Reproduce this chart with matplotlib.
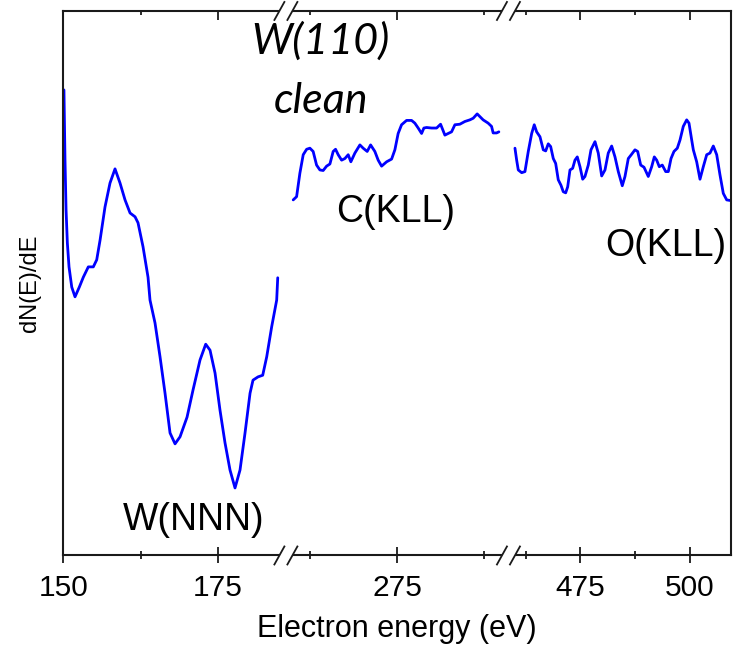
import matplotlib.pyplot as plt
from matplotlib.lines import Line2D
from matplotlib.patches import Polygon

plt.rcParams['font.family'] = ['Liberation Sans', 'DejaVu Sans']

# W(NNN) region, 150-186 eV
w_energy = [150.1, 150.27, 150.44, 150.65, 150.92, 151.36, 151.89, 152.59, 153.23, 154.04,
            154.85, 155.40, 155.94, 156.74, 157.55, 158.36, 159.17, 159.98, 160.79, 161.60,
            162.08, 162.89, 163.70, 164.02, 164.83, 165.64, 166.45, 167.26, 168.07, 168.88,
            170.01, 170.98, 172.11, 173.03, 173.73, 174.54, 175.34, 176.15, 176.96, 177.77,
            178.58, 179.39, 180.20, 180.68, 181.49, 182.25, 182.90, 183.70, 184.51, 184.68]
w_signal = [85.5, 72.6, 63.5, 57.4, 53.0, 49.3, 47.5, 49.3, 51.1, 53.0,
            53.0, 54.3, 57.9, 64.0, 68.4, 71.0, 68.4, 65.3, 62.9, 62.2,
            61.1, 56.7, 51.1, 46.9, 42.7, 36.5, 29.8, 22.5, 20.5, 21.8,
            25.4, 30.4, 35.9, 38.8, 37.7, 33.5, 26.7, 20.7, 15.7, 12.4,
            15.7, 22.5, 29.8, 32.2, 32.8, 33.1, 36.5, 42.0, 46.9, 51.0]

# C(KLL) region, 259-291 eV
c_energy = [260.05, 260.54, 261.01, 261.49, 261.98, 262.45, 262.92, 263.41, 263.89, 264.36,
            264.85, 265.33, 265.80, 266.14, 266.52, 267.01, 267.48, 267.96, 268.34, 268.92,
            269.64, 270.11, 270.69, 271.18, 271.79, 272.27, 272.76, 273.48, 274.20, 274.67,
            275.14, 275.63, 276.35, 277.07, 277.54, 278.02, 278.51, 278.84, 279.23, 279.95,
            280.67, 281.24, 281.86, 282.33, 282.82, 283.30, 284.01, 284.73, 285.45, 285.93,
            286.50, 286.89, 287.36, 288.08, 288.57, 288.80, 289.29, 289.62]
c_signal = [65.3, 65.9, 70.2, 73.6, 74.6, 74.8, 74.2, 71.7, 70.8, 70.7,
            71.5, 71.9, 74.2, 74.6, 73.6, 72.6, 72.9, 73.6, 72.3, 73.9,
            75.4, 74.8, 74.2, 75.4, 74.2, 72.6, 71.5, 72.3, 72.8, 74.5,
            77.5, 79.1, 79.9, 79.9, 79.4, 78.5, 77.5, 78.5, 78.6, 78.5,
            78.5, 79.2, 77.2, 77.5, 77.8, 79.1, 79.2, 79.7, 80.0, 80.3,
            81.1, 80.6, 80.0, 79.4, 78.8, 77.6, 77.6, 77.8]

# O(KLL) region, 458.5-509.5 eV
o_energy = [459.99, 460.38, 460.75, 461.53, 462.28, 463.04, 463.82, 464.41, 464.96, 465.72,
            466.48, 467.03, 467.62, 468.17, 468.77, 469.32, 469.91, 470.53, 471.06, 471.61,
            472.07, 472.60, 473.21, 473.74, 474.27, 474.89, 475.51, 476.03, 476.79, 477.41,
            478.33, 479.08, 479.86, 480.62, 481.37, 482.15, 482.91, 483.67, 484.58, 485.20,
            485.96, 486.74, 487.49, 488.11, 488.80, 489.56, 490.54, 491.32, 491.92, 492.47,
            493.06, 493.75, 494.53, 495.13, 495.75, 496.43, 497.19, 497.81, 498.56, 499.34,
            499.87, 500.49, 500.86, 501.63, 502.39, 503.15, 503.93, 504.68, 505.44, 506.22,
            506.97, 507.73, 508.51, 509.27]
o_signal = [74.8, 72.6, 70.8, 70.3, 70.5, 74.2, 77.5, 79.1, 77.8, 76.9,
            74.5, 74.3, 75.6, 75.1, 72.9, 72.0, 69.0, 68.0, 66.8, 66.6,
            67.7, 70.8, 71.1, 72.6, 73.2, 71.4, 69.1, 69.6, 71.7, 74.5,
            76.0, 73.9, 69.7, 70.8, 73.9, 75.2, 73.2, 70.5, 67.9, 69.6,
            72.9, 73.7, 74.5, 74.2, 71.7, 71.3, 69.6, 71.4, 73.2, 72.6,
            71.4, 71.7, 70.5, 70.5, 72.9, 74.2, 74.8, 76.3, 78.8, 80.0,
            79.4, 76.3, 74.5, 72.3, 69.1, 71.4, 73.6, 73.9, 75.2, 73.6,
            69.9, 66.5, 65.3, 65.2]

x_ranges = [(150, 186), (259, 291), (458.5, 509.5)]
major_ticks = [[150, 175], [275], [475, 500]]
minor_ticks = [[162.5], [262.5, 287.5], [462.5, 487.5]]
series = [(w_energy, w_signal), (c_energy, c_signal), (o_energy, o_signal)]

fig = plt.figure(figsize=(7.33, 6.45), dpi=100)
left, bottom, width, height = 0.0864, 0.1388, 0.9109, 0.8442
seg_w = width / 3
spine_c = '#1a1a1a'

axes = []
for i in range(3):
    ax = fig.add_axes([left + i * seg_w, bottom, seg_w, height])
    ax.set_facecolor('none')
    x, y = series[i]
    ax.plot(x, y, color='#0000ff', lw=2.0, solid_joinstyle='round',
            solid_capstyle='round')
    ax.set_xlim(*x_ranges[i])
    ax.set_ylim(0, 100)
    ax.set_xticks(major_ticks[i])
    ax.set_xticks(minor_ticks[i], minor=True)
    ax.tick_params(axis='x', which='both', direction='inout', width=1.3,
                   color=spine_c, labelsize=21.5, pad=7)
    ax.tick_params(axis='x', which='major', length=12)
    ax.tick_params(axis='x', which='minor', length=5.5)
    ax.tick_params(axis='y', left=False, labelleft=False)
    for s in ax.spines.values():
        s.set_linewidth(1.5)
        s.set_color(spine_c)
    ax.spines['top'].set_visible(False)
    if i > 0:
        ax.spines['left'].set_visible(False)
    if i < 2:
        ax.spines['right'].set_visible(False)

    # inward ticks along the top edge
    axt = ax.twiny()
    axt.set_xlim(*x_ranges[i])
    axt.set_xticks(major_ticks[i])
    axt.set_xticks(minor_ticks[i], minor=True)
    axt.tick_params(axis='x', which='both', direction='in', width=1.3,
                    color=spine_c, labeltop=False)
    axt.tick_params(axis='x', which='major', length=6.5)
    axt.tick_params(axis='x', which='minor', length=3)
    for name, s in axt.spines.items():
        s.set_visible(name == 'top')
        s.set_linewidth(1.5)
        s.set_color(spine_c)
    axes.append(ax)

axes[0].set_ylabel('dN(E)/dE', fontsize=17, labelpad=16)
axes[1].set_xlabel('Electron energy (eV)', fontsize=22, labelpad=9)

# peak labels
axes[0].text(171, 4.7, 'W(NNN)', fontsize=27, ha='center', va='baseline')
axes[1].text(274.8, 61.3, 'C(KLL)', fontsize=27, ha='center', va='baseline')
axes[2].text(494.6, 55.0, 'O(KLL)', fontsize=27, ha='center', va='baseline')
axes[1].text(264.0, 92.1, 'W(110)', fontsize=31, style='italic', family='Lato',
             ha='center', va='baseline')
axes[1].text(264.0, 81.2, 'clean', fontsize=31, style='italic', family='Lato',
             ha='center', va='baseline')

# "//" break marks where the segments meet, top and bottom
fw, fh = fig.bbox.width, fig.bbox.height
for i in (1, 2):
    xb = left + i * seg_w
    for yb in (bottom, bottom + height):
        dx, hw, hh = 6.5 / fw, 5 / fw, 9 / fh
        gap = Polygon([(xb - dx - hw, yb - hh), (xb - dx + hw, yb + hh),
                       (xb + dx + hw, yb + hh), (xb + dx - hw, yb - hh)],
                      closed=True, transform=fig.transFigure,
                      facecolor='white', edgecolor='none', zorder=5)
        fig.add_artist(gap)
        for off in (-dx, dx):
            fig.add_artist(Line2D([xb + off - hw, xb + off + hw], [yb - hh, yb + hh],
                                  transform=fig.transFigure, color=spine_c,
                                  lw=1.3, zorder=6))

fig.savefig('out.png', dpi=100)
